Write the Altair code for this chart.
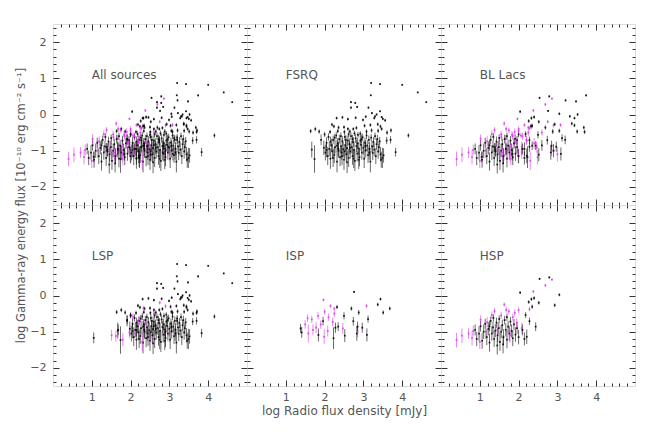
import altair as alt
import pandas as pd

# ---------------- data ----------------
# FSRQ (all black)
fsrq_x = [3.20, 3.43, 4.00, 4.40, 4.62, 3.19, 3.43,
          2.68, 2.79, 2.68, 2.84, 3.13, 3.22, 3.34, 3.47, 3.30,
          2.31, 2.46, 2.60, 2.80, 2.99, 3.06, 3.28, 3.50, 3.56,
          2.19, 2.24, 2.36, 2.50, 2.60, 2.74, 2.82, 3.03, 3.18, 3.37, 3.44, 3.47,
          1.64, 1.76, 1.86, 2.00, 2.14, 2.34, 2.51, 2.65, 2.77, 2.92, 3.08, 3.21, 3.38, 3.61, 3.71,
          1.67, 1.74, 1.91, 3.60, 3.70, 3.83, 3.49, 4.16, 3.52, 3.46,
          1.98, 2.02, 2.05, 2.08, 2.10, 2.12, 2.15, 2.18, 2.20, 2.22, 2.25, 2.27, 2.30, 2.32, 2.34,
          2.36, 2.38, 2.40, 2.42, 2.44, 2.46, 2.48, 2.50, 2.52, 2.54, 2.56, 2.58, 2.60, 2.62, 2.64,
          2.66, 2.68, 2.70, 2.72, 2.74, 2.76, 2.78, 2.80, 2.82, 2.84, 2.86, 2.88, 2.90, 2.92, 2.94,
          2.96, 2.98, 3.00, 3.02, 3.04, 3.06, 3.08, 3.10, 3.12, 3.14, 3.16, 3.18, 3.20, 3.22, 3.24,
          3.26, 3.28, 3.30, 3.32, 3.34, 3.36, 3.38, 3.40, 3.42, 3.44,
          2.26, 2.35, 2.45, 2.55, 2.65, 2.75, 2.85, 2.95, 2.15, 2.05, 2.62, 2.72, 2.52, 2.42, 2.32,
          2.58, 2.88, 3.05, 3.15, 2.22]
fsrq_y = [0.87, 0.84, 0.82, 0.61, 0.34, 0.53, 0.09,
          0.34, 0.32, 0.19, 0.21, 0.19, 0.04, 0.00, -0.07, -0.05,
          -0.10, -0.08, -0.13, -0.09, -0.15, -0.06, -0.10, -0.12, -0.16,
          -0.28, -0.33, -0.36, -0.35, -0.40, -0.40, -0.37, -0.31, -0.29, -0.27, -0.33, -0.40,
          -0.46, -0.40, -0.47, -0.55, -0.48, -0.46, -0.48, -0.47, -0.52, -0.53, -0.47, -0.44, -0.45, -0.50, -0.44,
          -0.97, -1.23, -0.70, -0.72, -0.70, -1.04, -1.20, -0.58, -1.13, -1.25,
          -0.92, -1.05, -0.78, -1.15, -0.62, -0.95, -1.22, -0.85, -1.02, -0.70, -1.12, -0.90, -0.58, -1.30, -0.80,
          -1.00, -0.68, -1.18, -0.88, -1.05, -0.74, -0.96, -1.25, -0.62, -0.85, -1.10, -0.93, -0.72, -1.20, -0.82,
          -1.02, -0.60, -0.90, -1.15, -0.76, -0.98, -1.28, -0.66, -0.87, -1.08, -0.56, -0.94, -1.18, -0.72, -0.84,
          -1.05, -0.63, -0.92, -1.22, -0.78, -0.99, -0.58, -0.86, -1.12, -0.70, -0.95, -1.30, -0.64, -0.88, -1.06,
          -0.76, -0.97, -0.60, -1.15, -0.82, -0.68, -1.02, -0.90, -0.74, -1.10,
          -0.64, -0.95, -1.15, -0.70, -0.92, -1.22, -0.80, -0.68, -0.75, -0.98, -0.55, -0.68, -1.02, -0.60, -0.86,
          -1.32, -1.25, -0.87, -1.05, -1.20]
fsrq_e = [0.02, 0.02, 0.02, 0.02, 0.02, 0.02, 0.03,
          0.03, 0.03, 0.03, 0.03, 0.03, 0.03, 0.03, 0.03, 0.03,
          0.04, 0.04, 0.04, 0.04, 0.04, 0.04, 0.04, 0.04, 0.04,
          0.05, 0.05, 0.05, 0.05, 0.05, 0.05, 0.05, 0.05, 0.05, 0.05, 0.05, 0.05,
          0.06, 0.06, 0.06, 0.07, 0.06, 0.06, 0.06, 0.06, 0.07, 0.07, 0.06, 0.06, 0.06, 0.06, 0.06,
          0.22, 0.38, 0.15, 0.10, 0.10, 0.12, 0.28, 0.06, 0.20, 0.22,
          0.20, 0.22, 0.15, 0.25, 0.10, 0.20, 0.28, 0.18, 0.20, 0.12, 0.22, 0.18, 0.10, 0.30, 0.15,
          0.20, 0.12, 0.25, 0.18, 0.20, 0.14, 0.20, 0.28, 0.10, 0.16, 0.22, 0.18, 0.14, 0.25, 0.16,
          0.20, 0.10, 0.18, 0.24, 0.14, 0.20, 0.28, 0.12, 0.17, 0.22, 0.08, 0.18, 0.25, 0.13, 0.16,
          0.20, 0.10, 0.18, 0.26, 0.14, 0.20, 0.10, 0.16, 0.22, 0.12, 0.18, 0.30, 0.10, 0.16, 0.20,
          0.14, 0.18, 0.10, 0.22, 0.15, 0.12, 0.20, 0.16, 0.12, 0.20,
          0.10, 0.20, 0.25, 0.12, 0.18, 0.26, 0.15, 0.12, 0.14, 0.20, 0.08, 0.12, 0.20, 0.10, 0.16,
          0.30, 0.26, 0.16, 0.20, 0.25]

# LSP BL Lacs (k = black, m = magenta)
lspbl_x = [3.74, 3.21, 3.48, 3.32, 3.52, 3.44, 3.05, 1.05, 1.68, 1.91, 2.15, 2.00, 2.60, 2.90, 3.20, 3.70,
           1.51, 1.62, 1.80, 1.97, 2.08, 2.06, 2.33, 2.30, 2.49, 2.60, 2.75, 2.90, 3.00, 2.40, 2.20]
lspbl_y = [0.53, 0.39, 0.36, -0.05, 0.00, -0.30, -0.45, -1.17, -0.95, -0.67, -0.95, -0.55, -0.85, -1.00, -0.70, -0.48,
           -1.10, -1.12, -1.22, -1.02, -1.05, -0.58, -0.35, -1.28, -1.18, -0.50, -0.20, -0.30, -1.10, -0.80, -0.70]
lspbl_e = [0.03, 0.03, 0.03, 0.04, 0.04, 0.05, 0.06, 0.15, 0.15, 0.12, 0.18, 0.08, 0.15, 0.18, 0.12, 0.06,
           0.15, 0.15, 0.18, 0.15, 0.18, 0.08, 0.06, 0.25, 0.20, 0.08, 0.05, 0.06, 0.20, 0.15, 0.12]
lspbl_c = ["k"] * 16 + ["m"] * 15

# ISP BL Lacs
isp_x = [1.97, 2.15, 2.25, 3.08, 1.56, 1.67, 1.50, 1.83, 1.78, 1.58, 1.70, 1.99, 2.08, 2.21, 2.47, 2.10, 1.90, 2.25, 2.00, 2.85,
         2.76, 3.44, 3.68, 3.37, 3.51, 2.69, 2.88, 2.32, 2.50, 2.74, 3.12, 1.38, 1.41, 1.96, 1.84, 2.28, 2.35, 2.23, 2.52, 2.83,
         2.85, 2.97, 3.09]
isp_y = [-0.12, -0.29, -0.36, -0.29, -0.63, -0.66, -0.80, -0.56, -0.89, -1.05, -0.95, -1.14, -0.98, -0.73, -0.91, -0.60, -0.80, -0.50, -0.45, -1.00,
         0.10, -0.10, -0.36, -0.25, -0.47, -0.36, -0.47, -0.32, -0.56, -0.71, -0.65, -0.91, -1.02, -0.71, -1.09, -0.89, -0.86, -1.18, -1.11, -1.05,
         -0.86, -0.89, -1.09]
isp_e = [0.04, 0.05, 0.05, 0.05, 0.10, 0.10, 0.12, 0.10, 0.15, 0.25, 0.15, 0.20, 0.15, 0.12, 0.15, 0.10, 0.12, 0.10, 0.08, 0.15,
         0.03, 0.04, 0.05, 0.05, 0.06, 0.06, 0.07, 0.06, 0.10, 0.12, 0.10, 0.12, 0.15, 0.12, 0.18, 0.14, 0.12, 0.30, 0.18, 0.20,
         0.14, 0.14, 0.18]
isp_c = ["m"] * 20 + ["k"] * 23

# HSP BL Lacs
hsp_x = [0.88, 0.92, 0.98, 1.02, 1.06, 1.10, 1.14, 1.18, 1.22, 1.25, 1.28, 1.31, 1.34, 1.37, 1.40, 1.43, 1.46, 1.49, 1.52, 1.55,
         1.58, 1.61, 1.64, 1.67, 1.70, 1.73, 1.76, 1.79, 1.82, 1.85, 1.88, 1.92, 1.96, 2.00, 1.50, 1.60, 1.70, 1.35, 1.45, 1.25,
         2.54, 2.79, 2.04, 3.05, 2.93, 2.26, 2.33, 2.40, 2.52, 2.35, 2.18, 2.28, 2.44, 2.21, 2.10, 2.15,
         0.40, 0.54, 0.71, 0.83, 0.80, 1.00, 1.02, 1.19, 1.31, 1.38, 1.63, 1.68, 1.75, 1.90, 2.00, 2.08, 1.55, 1.85, 1.45, 1.15,
         1.78, 2.28, 2.38, 2.69, 2.86, 1.95]
hsp_y = [-0.95, -1.20, -1.05, -0.85, -1.25, -1.00, -0.78, -1.15, -0.92, -1.30, -0.70, -1.05, -0.88, -1.20, -0.97, -0.75, -1.10, -0.90, -1.28, -1.00,
         -0.82, -1.15, -0.68, -0.95, -1.22, -0.86, -1.05, -0.72, -0.98, -1.18, -0.80, -1.08, -0.90, -1.15, -0.65, -1.35, -0.60, -0.62, -1.38, -0.85,
         0.46, 0.50, 0.08, 0.02, -0.27, -0.18, -0.10, -0.07, -0.20, -0.31, -0.54, -0.71, -0.86, -1.14, -0.95, -1.20,
         -1.23, -1.11, -1.05, -0.98, -1.18, -1.28, -0.67, -0.74, -0.54, -0.43, -0.25, -0.40, -0.44, -0.48, -0.40, -0.90, -0.55, -0.60, -0.95, -1.00,
         -1.10, -0.38, 0.11, 0.28, 0.44, -0.75]
hsp_e = [0.15, 0.20, 0.20, 0.15, 0.22, 0.20, 0.14, 0.22, 0.18, 0.25, 0.12, 0.20, 0.16, 0.22, 0.18, 0.14, 0.20, 0.16, 0.25, 0.18,
         0.15, 0.22, 0.12, 0.18, 0.24, 0.16, 0.20, 0.13, 0.18, 0.22, 0.15, 0.20, 0.16, 0.20, 0.10, 0.25, 0.10, 0.10, 0.25, 0.15,
         0.03, 0.03, 0.04, 0.04, 0.05, 0.05, 0.05, 0.05, 0.05, 0.06, 0.08, 0.10, 0.12, 0.20, 0.15, 0.18,
         0.20, 0.20, 0.15, 0.15, 0.20, 0.20, 0.12, 0.14, 0.10, 0.08, 0.06, 0.08, 0.08, 0.10, 0.08, 0.15, 0.10, 0.10, 0.18, 0.20,
         0.20, 0.06, 0.04, 0.04, 0.03, 0.12]
hsp_c = ["k"] * 56 + ["m"] * 26

panel_names = ["All sources", "FSRQ", "BL Lacs", "LSP", "ISP", "HSP"]
x_major = [1, 2, 3, 4]
y_major = [-2, -1, 0, 1, 2]
x_minor = [0.2, 0.4, 0.6, 0.8, 1.2, 1.4, 1.6, 1.8, 2.2, 2.4, 2.6, 2.8, 3.2, 3.4, 3.6, 3.8, 4.2, 4.4, 4.6, 4.8]
y_minor = [-2.4, -2.2, -1.8, -1.6, -1.4, -1.2, -0.8, -0.6, -0.4, -0.2, 0.2, 0.4, 0.6, 0.8,
           1.2, 1.4, 1.6, 1.8, 2.2, 2.4]
label_pos = (1.0, 1.1)

x_title = "log Radio flux density [mJy]"
y_title = "log Gamma-ray energy flux [10\u207b\u00b9\u2070 erg cm\u207b\u00b2 s\u207b\u00b9]"

# ---------------- styling ----------------
FONT = "DejaVu Sans"
TXT = "#555555"
TICK = "#333333"
W, H = 194, 181


def group(xs, ys, es, cs):
    return pd.DataFrame({"x": xs, "y": ys,
                         "lo": [a - b for a, b in zip(ys, es)],
                         "hi": [a + b for a, b in zip(ys, es)],
                         "c": cs})


g_fsrq = group(fsrq_x, fsrq_y, fsrq_e, ["k"] * len(fsrq_x))
g_lsp = group(lspbl_x, lspbl_y, lspbl_e, lspbl_c)
g_isp = group(isp_x, isp_y, isp_e, isp_c)
g_hsp = group(hsp_x, hsp_y, hsp_e, hsp_c)

panels_data = {
    "All sources": pd.concat([g_fsrq, g_lsp, g_isp, g_hsp], ignore_index=True),
    "FSRQ": g_fsrq,
    "BL Lacs": pd.concat([g_lsp, g_isp, g_hsp], ignore_index=True),
    "LSP": pd.concat([g_fsrq, g_lsp], ignore_index=True),
    "ISP": g_isp,
    "HSP": g_hsp,
}

XS = alt.Scale(domain=[0, 5], nice=False, zero=False)
YS = alt.Scale(domain=[-2.5, 2.5], nice=False, zero=False)
CS = alt.Scale(domain=["k", "m"], range=["#000000", "#dd33ee"])


def axis(orient, values, size, labels=False, pad=5, **extra):
    kw = dict(orient=orient, values=values, tickSize=size, offset=-size, labels=labels,
              domain=False, grid=False, ticks=True, tickColor=TICK, tickWidth=1)
    if labels:
        kw.update(labelFont=FONT, labelFontSize=11, labelColor=TXT, labelPadding=pad)
    kw.update(extra)
    return alt.Axis(**kw)


def panel(name, xlab, ylab, xt=False, yt=False):
    df = panels_data[name]
    lab = pd.DataFrame({"x": [label_pos[0]], "y": [label_pos[1]], "t": [name]})

    xb_extra = {}
    if xt:
        xb_extra = dict(titleFont=FONT, titleFontSize=12, titleFontWeight="normal",
                        titleColor=TXT, titlePadding=3)
    yl_extra = {}
    if yt:
        yl_extra = dict(titleFont=FONT, titleFontSize=11.5, titleFontWeight="normal",
                        titleColor=TXT, titleX=-33, titleY=H)

    rule = alt.Chart(df).mark_rule(strokeWidth=0.9, opacity=0.65).encode(
        x=alt.X("x:Q", scale=XS, title=x_title if xt else None,
                axis=axis("bottom", x_major, 6, xlab, 5, **xb_extra)),
        y=alt.Y("lo:Q", scale=YS, title=y_title if yt else None,
                axis=axis("left", y_major, 6, ylab, 7, **yl_extra)),
        y2="hi:Q",
        color=alt.Color("c:N", scale=CS, legend=None),
    )
    pts = alt.Chart(df).mark_square(size=3, opacity=0.85).encode(
        x=alt.X("x:Q", scale=XS, title=None, axis=axis("bottom", x_minor, 3)),
        y=alt.Y("y:Q", scale=YS, title=None, axis=axis("left", y_minor, 3)),
        color=alt.Color("c:N", scale=CS, legend=None),
    )
    txt = alt.Chart(lab).mark_text(align="left", baseline="middle", font=FONT,
                                   fontSize=12, color=TXT).encode(
        x=alt.X("x:Q", scale=XS, title=None, axis=axis("top", x_major, 6)),
        y=alt.Y("y:Q", scale=YS, title=None, axis=axis("right", y_major, 6)),
        text="t:N",
    )
    dummy = alt.Chart(lab).mark_point(opacity=0).encode(
        x=alt.X("x:Q", scale=XS, title=None, axis=axis("top", x_minor, 3)),
        y=alt.Y("y:Q", scale=YS, title=None, axis=axis("right", y_minor, 3)),
    )
    return alt.layer(rule, pts, txt, dummy).resolve_axis(
        x="independent", y="independent").properties(width=W, height=H)


chart = alt.concat(
    panel("All sources", False, True, yt=True),
    panel("FSRQ", False, False),
    panel("BL Lacs", False, False),
    panel("LSP", True, True),
    panel("ISP", True, False, xt=True),
    panel("HSP", True, False),
    columns=3, spacing=0, bounds="flush",
).properties(
    padding={"left": 6, "top": 15, "right": 5, "bottom": 5}
).configure_view(stroke=TICK, strokeWidth=1).configure(background="white")

chart.save("out.html", embed_options={"renderer": "svg", "actions": False})
